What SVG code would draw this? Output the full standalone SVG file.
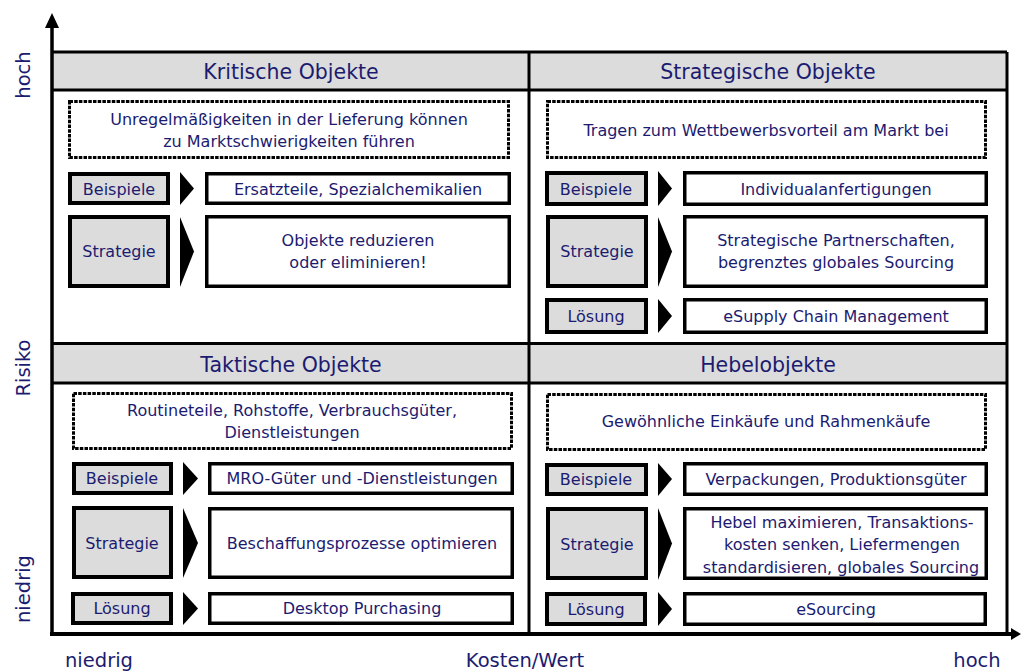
<svg xmlns="http://www.w3.org/2000/svg" width="1021" height="671" viewBox="0 0 1021 671">
  <defs>
    <style>
      text { font-family: "DejaVu Sans", Verdana, sans-serif; fill: #1b1b70; text-anchor: middle; }
      .hdr { font-size: 20.5px; }
      .txt { font-size: 16px; }
      .axis { font-size: 19.5px; }
      .band { fill: #dcdcdc; stroke: none; }
      .frame { fill: none; stroke: #000; stroke-width: 3; }
      .note { fill: #fff; stroke: #000; stroke-width: 3; stroke-dasharray: 3.5 1.2; }
      .label { fill: #dcdcdc; stroke: #000; stroke-width: 4; }
      .value { fill: #fff; stroke: #000; stroke-width: 3.5; }
      .chev { fill: #000; }
    </style>
  </defs>

  <!-- header bands -->
  <rect class="band" x="52" y="52" width="955" height="38"/>
  <rect class="band" x="52" y="344" width="955" height="39"/>

  <!-- frame, grid lines and axes -->
  <g id="connectors">
    <line class="frame" x1="52" y1="52" x2="1007" y2="52"/>
    <line class="frame" x1="52" y1="90" x2="1007" y2="90"/>
    <line class="frame" x1="52" y1="343.5" x2="1007" y2="343.5"/>
    <line class="frame" x1="52" y1="383" x2="1007" y2="383"/>
    <line class="frame" x1="529" y1="52" x2="529" y2="634"/>
    <line class="frame" x1="1007" y1="52" x2="1007" y2="634"/>
    <!-- y axis -->
    <line x1="52" y1="636" x2="52" y2="25" stroke="#000" stroke-width="3.5"/>
    <polygon points="52,13 45,28 59,28" fill="#000"/>
    <!-- x axis -->
    <line x1="50" y1="634" x2="1012" y2="634" stroke="#000" stroke-width="4"/>
    <polygon points="1021,634 1011,628 1011,640" fill="#000"/>
  </g>

  <!-- axis labels -->
  <g id="axis-labels">
    <text class="axis" transform="translate(30,75) rotate(-90)">hoch</text>
    <text class="axis" transform="translate(30,368) rotate(-90)">Risiko</text>
    <text class="axis" transform="translate(30,589) rotate(-90)">niedrig</text>
    <text class="axis" x="99" y="667">niedrig</text>
    <text class="axis" x="525" y="667">Kosten/Wert</text>
    <text class="axis" x="977" y="667">hoch</text>
  </g>

  <!-- Kritische Objekte -->
  <g id="kritisch">
    <text class="hdr" x="291" y="79">Kritische Objekte</text>
    <rect class="note" x="69.5" y="101.5" width="439" height="56"/>
    <text class="txt" x="289" y="125">Unregelmäßigkeiten in der Lieferung können</text>
    <text class="txt" x="289" y="147">zu Marktschwierigkeiten führen</text>
    <rect class="label" x="70" y="174" width="98" height="29"/>
    <text class="txt" x="119" y="195">Beispiele</text>
    <polygon class="chev" points="180,172 194,188.5 180,205"/>
    <rect class="value" x="206.75" y="173.75" width="302.5" height="29.5"/>
    <text class="txt" x="358" y="195">Ersatzteile, Spezialchemikalien</text>
    <rect class="label" x="70" y="217" width="98" height="69"/>
    <text class="txt" x="119" y="257">Strategie</text>
    <polygon class="chev" points="180,217 194,251.5 180,287"/>
    <rect class="value" x="206.75" y="216.75" width="302.5" height="69.5"/>
    <text class="txt" x="358" y="246">Objekte reduzieren</text>
    <text class="txt" x="358" y="268">oder eliminieren!</text>
  </g>

  <!-- Strategische Objekte -->
  <g id="strategisch">
    <text class="hdr" x="768" y="79">Strategische Objekte</text>
    <rect class="note" x="547.5" y="101.5" width="438" height="56"/>
    <text class="txt" x="766" y="136">Tragen zum Wettbewerbsvorteil am Markt bei</text>
    <rect class="label" x="547" y="173" width="99" height="31"/>
    <text class="txt" x="596" y="195">Beispiele</text>
    <polygon class="chev" points="658,171 672,188.5 658,206"/>
    <rect class="value" x="684.75" y="172.75" width="301.5" height="31.5"/>
    <text class="txt" x="836" y="195">Individualanfertigungen</text>
    <rect class="label" x="548" y="217" width="98" height="69"/>
    <text class="txt" x="597" y="257">Strategie</text>
    <polygon class="chev" points="658,217 672,251.5 658,287"/>
    <rect class="value" x="684.75" y="216.75" width="301.5" height="69.5"/>
    <text class="txt" x="836" y="246">Strategische Partnerschaften,</text>
    <text class="txt" x="836" y="268">begrenztes globales Sourcing</text>
    <rect class="label" x="547" y="300" width="99" height="32"/>
    <text class="txt" x="596" y="322">Lösung</text>
    <polygon class="chev" points="658,299 672,316 658,333"/>
    <rect class="value" x="684.75" y="299.75" width="301.5" height="32.5"/>
    <text class="txt" x="836" y="322">eSupply Chain Management</text>
  </g>

  <!-- Taktische Objekte -->
  <g id="taktisch">
    <text class="hdr" x="291" y="372">Taktische Objekte</text>
    <rect class="note" x="73.5" y="393.5" width="438" height="55"/>
    <text class="txt" x="292" y="416">Routineteile, Rohstoffe, Verbrauchsgüter,</text>
    <text class="txt" x="292" y="438">Dienstleistungen</text>
    <rect class="label" x="74" y="464" width="97" height="29"/>
    <text class="txt" x="122" y="484">Beispiele</text>
    <polygon class="chev" points="183,462 198,478.5 183,495"/>
    <rect class="value" x="209.75" y="463.75" width="302.5" height="29.5"/>
    <text class="txt" x="362" y="484">MRO-Güter und -Dienstleistungen</text>
    <rect class="label" x="74" y="508" width="97" height="69"/>
    <text class="txt" x="122" y="549">Strategie</text>
    <polygon class="chev" points="183,508 198,543 183,578"/>
    <rect class="value" x="209.75" y="508.75" width="302.5" height="68.5"/>
    <text class="txt" x="362" y="549">Beschaffungsprozesse optimieren</text>
    <rect class="label" x="73" y="594" width="98" height="29"/>
    <text class="txt" x="122" y="614">Lösung</text>
    <polygon class="chev" points="183,592 198,608.5 183,625"/>
    <rect class="value" x="209.75" y="593.75" width="302.5" height="29.5"/>
    <text class="txt" x="362" y="614">Desktop Purchasing</text>
  </g>

  <!-- Hebelobjekte -->
  <g id="hebel">
    <text class="hdr" x="768" y="372">Hebelobjekte</text>
    <rect class="note" x="547.5" y="394.5" width="438" height="55"/>
    <text class="txt" x="766" y="427">Gewöhnliche Einkäufe und Rahmenkäufe</text>
    <rect class="label" x="547" y="465" width="99" height="29"/>
    <text class="txt" x="596" y="485">Beispiele</text>
    <polygon class="chev" points="658,463 672,479 658,496"/>
    <rect class="value" x="684.75" y="463.75" width="301.5" height="30.5"/>
    <text class="txt" x="836" y="485">Verpackungen, Produktionsgüter</text>
    <rect class="label" x="548" y="509" width="98" height="69"/>
    <text class="txt" x="597" y="550">Strategie</text>
    <polygon class="chev" points="658,508 672,543.5 658,580"/>
    <rect class="value" x="684.75" y="508.75" width="301.5" height="69.5"/>
    <text class="txt" x="842" y="528">Hebel maximieren, Transaktions-</text>
    <text class="txt" x="842" y="550">kosten senken, Liefermengen</text>
    <text class="txt" x="841" y="573">standardisieren, globales Sourcing</text>
    <rect class="label" x="547" y="594" width="98" height="30"/>
    <text class="txt" x="596" y="615">Lösung</text>
    <polygon class="chev" points="658,592 672,609 658,626"/>
    <rect class="value" x="684.75" y="593.75" width="300.5" height="30.5"/>
    <text class="txt" x="836" y="615">eSourcing</text>
  </g>
</svg>
